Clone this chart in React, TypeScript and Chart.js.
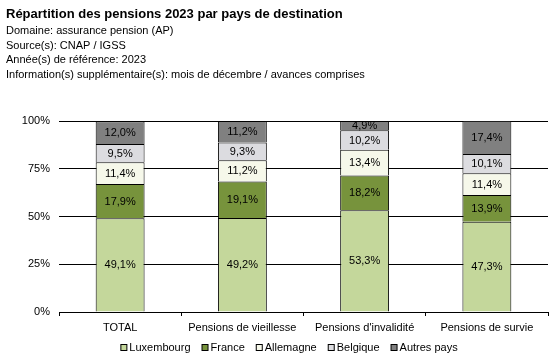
import React, { useEffect, useRef } from "react";
import { Chart, registerables } from "chart.js";

Chart.register(...registerables);

const categories = ["TOTAL", "Pensions de vieillesse", "Pensions d'invalidité", "Pensions de survie"];
const seriesNames = ["Luxembourg", "France", "Allemagne", "Belgique", "Autres pays"];
const luxembourg = [49.1, 49.2, 53.3, 47.3];
const france = [17.9, 19.1, 18.2, 13.9];
const allemagne = [11.4, 11.2, 13.4, 11.4];
const belgique = [9.5, 9.3, 10.2, 10.1];
const autresPays = [12.0, 11.2, 4.9, 17.4];
const seriesColors = ["#c4d79b", "#77933c", "#f6f8ea", "#dcdce0", "#808080"];
const yTicks = [0, 25, 50, 75, 100];

const titleText = "Répartition des pensions 2023 par pays de destination";
const subtitleLines = [
  "Domaine: assurance pension (AP)",
  "Source(s): CNAP / IGSS",
  "Année(s) de référence: 2023",
  "Information(s) supplémentaire(s): mois de décembre / avances comprises",
];

const FONT = "'Liberation Sans', Arial, sans-serif";

const fmt = (v: number) => v.toFixed(1).replace(".", ",") + "%";

const overlayPlugin = {
  id: "overlay",
  afterDatasetsDraw(chart: any) {
    const ctx = chart.ctx;
    ctx.save();
    ctx.font = `11px ${FONT}`;
    ctx.fillStyle = "#000";
    ctx.textAlign = "center";
    ctx.textBaseline = "middle";
    chart.data.datasets.forEach((ds: any, i: number) => {
      const meta = chart.getDatasetMeta(i);
      meta.data.forEach((el: any, j: number) => {
        const y = (el.y + el.base) / 2;
        ctx.fillText(fmt(ds.data[j]), el.x, y + 0.5);
      });
    });
    ctx.restore();
  },
  afterDraw(chart: any) {
    const ctx = chart.ctx;
    ctx.save();
    // header
    ctx.fillStyle = "#000";
    ctx.textAlign = "left";
    ctx.textBaseline = "alphabetic";
    ctx.font = `bold 13px ${FONT}`;
    ctx.fillText(titleText, 6, 18);
    ctx.font = `11px ${FONT}`;
    subtitleLines.forEach((l, i) => ctx.fillText(l, 6, 34 + i * 14.6));
    // legend
    ctx.font = `11px ${FONT}`;
    ctx.textBaseline = "middle";
    const box = 7;
    const gapText = 2;
    const gapItem = 11;
    const widths = seriesNames.map((n) => box + gapText + ctx.measureText(n).width);
    const total = widths.reduce((a, b) => a + b, 0) + gapItem * (widths.length - 1);
    let x = 289 - total / 2;
    const cy = 348;
    seriesNames.forEach((n, i) => {
      ctx.fillStyle = seriesColors[i];
      ctx.fillRect(x + 0.5, cy - 3.5, box - 1, box - 1);
      ctx.strokeStyle = "#000";
      ctx.lineWidth = 1;
      ctx.strokeRect(x + 0.5, cy - 3.5, box - 1, box - 1);
      ctx.fillStyle = "#000";
      ctx.fillText(n, x + box + gapText, cy);
      x += widths[i] + gapItem;
    });
    ctx.restore();
  },
};

export default function App() {
  const ref = useRef<HTMLCanvasElement>(null);
  useEffect(() => {
    if (!ref.current) return;
    const values = [luxembourg, france, allemagne, belgique, autresPays];
    const chart = new Chart(ref.current, {
      type: "bar",
      data: {
        labels: categories,
        datasets: seriesNames.map((name, i) => ({
          label: name,
          data: values[i],
          backgroundColor: seriesColors[i],
          borderColor: "#000",
          borderWidth: 1,
          borderSkipped: "bottom",
          categoryPercentage: 1,
          barPercentage: 0.4,
        })),
      },
      options: {
        responsive: false,
        animation: false,
        devicePixelRatio: 1,
        layout: { padding: { top: 121, right: 7, left: 0, bottom: 0 } },
        plugins: { legend: { display: false }, tooltip: { enabled: false }, title: { display: false } },
        scales: {
          x: {
            stacked: true,
            offset: true,
            grid: {
              display: true,
              offset: true,
              drawOnChartArea: false,
              drawTicks: true,
              tickLength: 4,
              color: "#000",
            },
            border: { display: true, color: "#000" },
            ticks: { color: "#000", font: { size: 11, family: FONT }, padding: 5, maxRotation: 0 },
            afterFit: (s: any) => {
              s.height = 49;
            },
          },
          y: {
            stacked: true,
            min: 0,
            max: 100,
            afterBuildTicks: (s: any) => {
              s.ticks = yTicks.map((v) => ({ value: v }));
            },
            grid: { color: "#000", drawTicks: false },
            border: { display: false },
            ticks: {
              color: "#000",
              font: { size: 11, family: FONT },
              padding: 9,
              callback: (v: any) => v + "%",
            },
            afterFit: (s: any) => {
              s.width = 59;
            },
          },
        },
      },
      plugins: [overlayPlugin],
    });
    return () => chart.destroy();
  }, []);
  return (
    <div style={{ position: "absolute", left: 0, top: 0, width: 555, height: 361, background: "#fff" }}>
      <canvas ref={ref} width={555} height={361} style={{ width: 555, height: 361, display: "block" }} />
    </div>
  );
}
